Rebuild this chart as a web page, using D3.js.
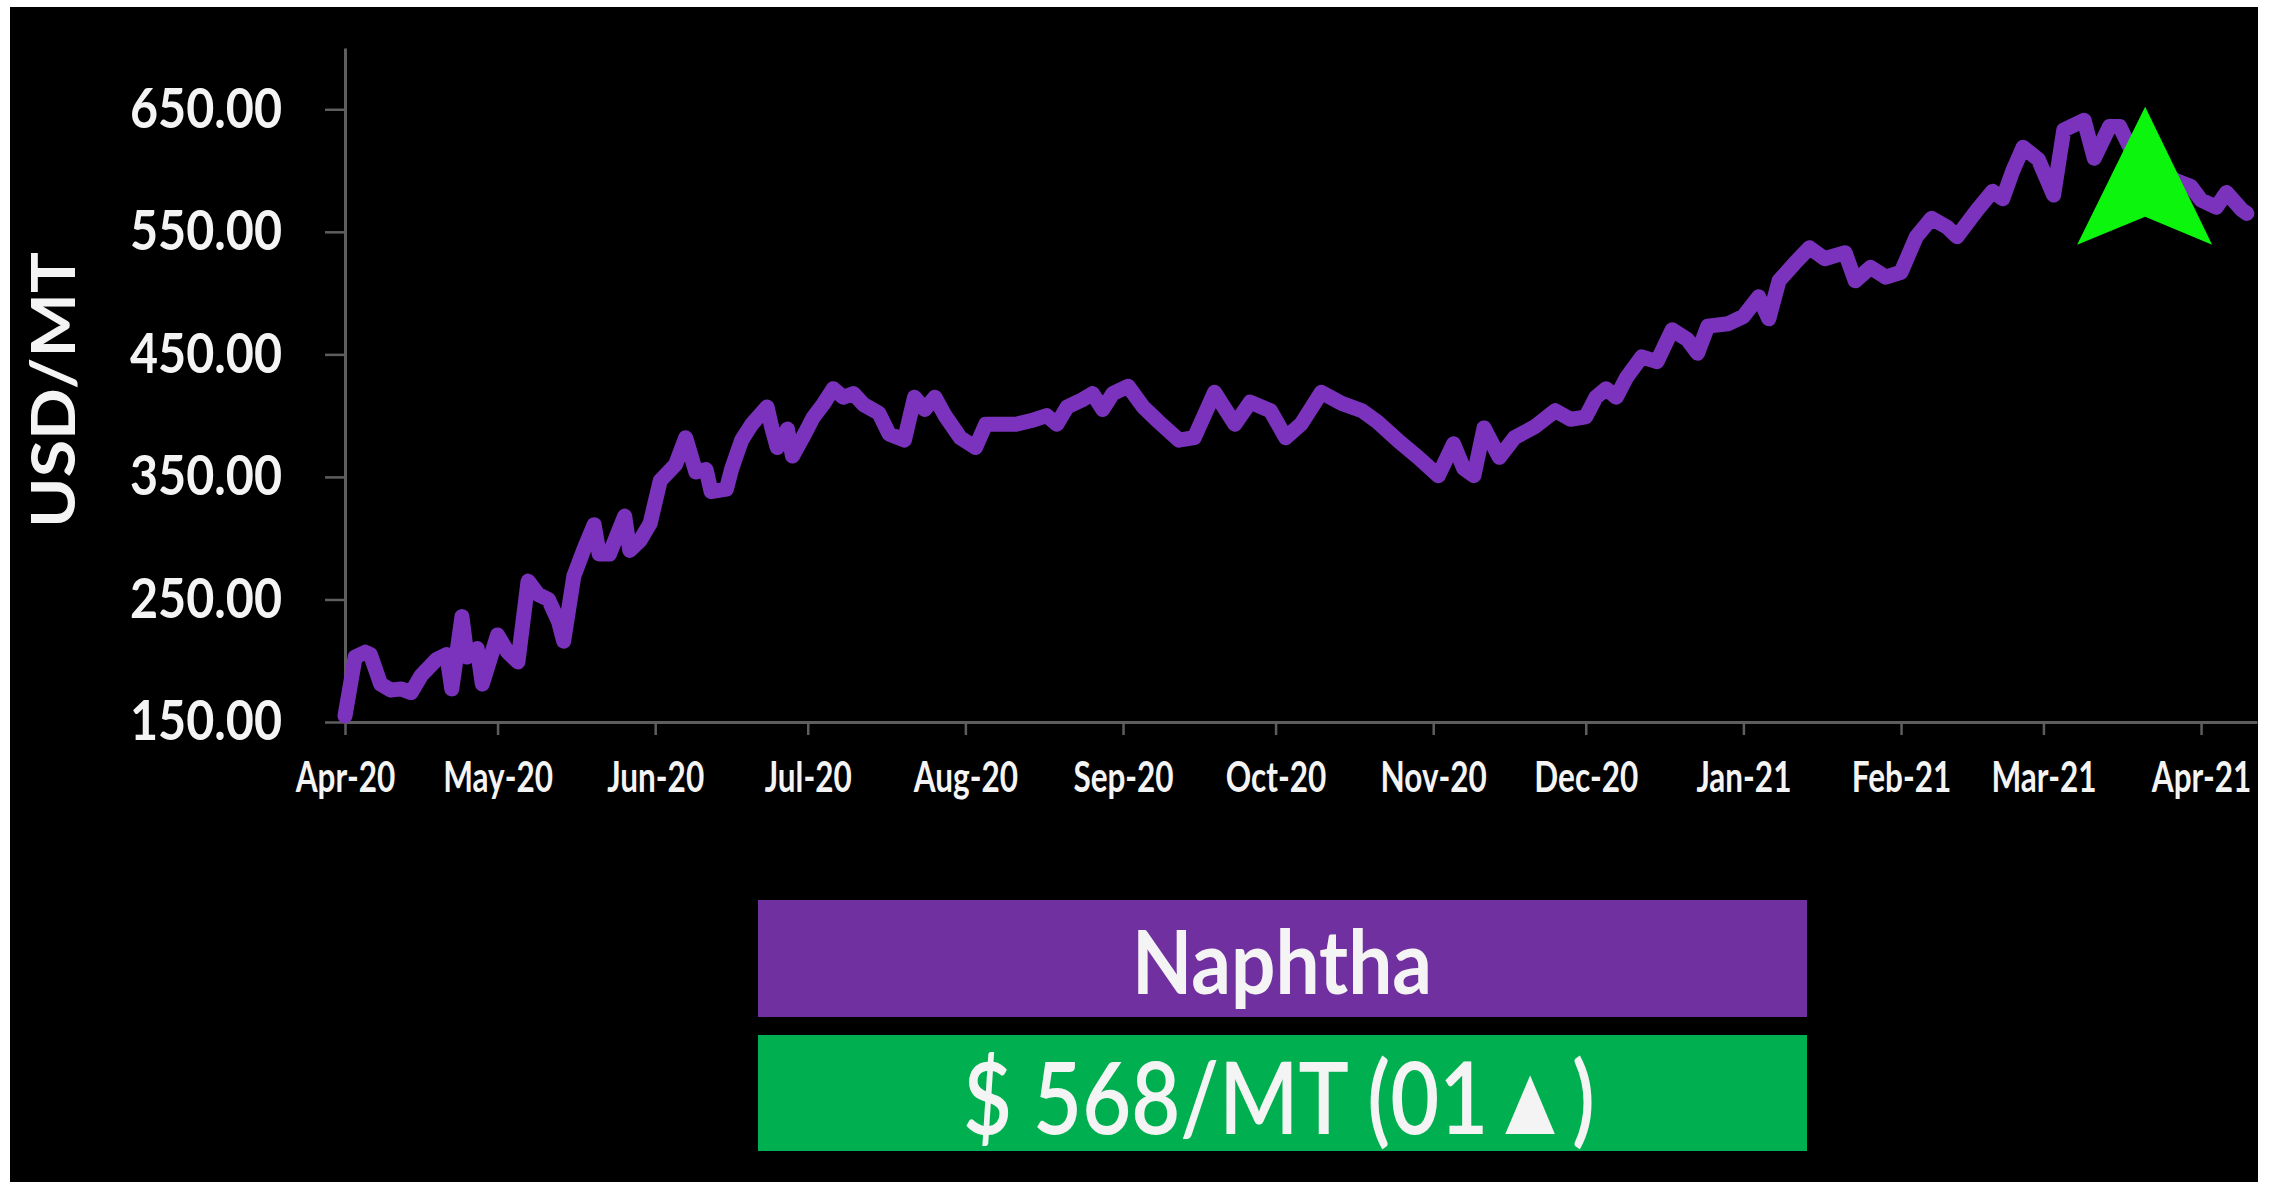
<!DOCTYPE html>
<html>
<head>
<meta charset="utf-8">
<script src="https://cdn.jsdelivr.net/npm/d3@7"></script>
<style>
  body { margin: 0; background: #fff; }
  svg { display: block; }
  text { font-family: Lato, "Open Sans", sans-serif; fill: #f4f4f4; }
</style>
</head>
<body>
<svg id="chart" width="2280" height="1182"></svg>
<script>
// Naphtha price, USD/MT
const dates = [
  "2020-04-01","2020-04-03","2020-04-05","2020-04-06","2020-04-08","2020-04-10","2020-04-12","2020-04-14",
  "2020-04-16","2020-04-19","2020-04-21","2020-04-22","2020-04-24","2020-04-25","2020-04-27","2020-04-28",
  "2020-05-01","2020-05-03","2020-05-05","2020-05-07","2020-05-09","2020-05-11","2020-05-13","2020-05-14",
  "2020-05-16","2020-05-18","2020-05-20","2020-05-21","2020-05-23","2020-05-26","2020-05-27","2020-05-29",
  "2020-05-31","2020-06-02","2020-06-05","2020-06-07","2020-06-09","2020-06-11","2020-06-12","2020-06-15",
  "2020-06-16","2020-06-18","2020-06-20","2020-06-23","2020-06-24","2020-06-25","2020-06-27","2020-06-28",
  "2020-06-30","2020-07-02","2020-07-04","2020-07-06","2020-07-08","2020-07-10","2020-07-12","2020-07-15",
  "2020-07-17","2020-07-20","2020-07-22","2020-07-24","2020-07-26","2020-07-28","2020-07-31","2020-08-03",
  "2020-08-05","2020-08-08","2020-08-11","2020-08-14","2020-08-17","2020-08-19","2020-08-21","2020-08-24",
  "2020-08-26","2020-08-28","2020-08-30","2020-09-02","2020-09-05","2020-09-08","2020-09-12","2020-09-15",
  "2020-09-19","2020-09-23","2020-09-26","2020-09-30","2020-10-03","2020-10-06","2020-10-10","2020-10-14",
  "2020-10-18","2020-10-21","2020-10-25","2020-10-29","2020-11-02","2020-11-05","2020-11-07","2020-11-09",
  "2020-11-11","2020-11-14","2020-11-17","2020-11-21","2020-11-25","2020-11-28","2020-12-01","2020-12-03",
  "2020-12-05","2020-12-07","2020-12-09","2020-12-12","2020-12-15","2020-12-18","2020-12-21","2020-12-23",
  "2020-12-25","2020-12-29","2021-01-01","2021-01-04","2021-01-06","2021-01-08","2021-01-11","2021-01-14",
  "2021-01-17","2021-01-21","2021-01-23","2021-01-26","2021-01-29","2021-02-01","2021-02-04","2021-02-07",
  "2021-02-10","2021-02-12","2021-02-16","2021-02-19","2021-02-21","2021-02-23","2021-02-25","2021-02-28",
  "2021-03-03","2021-03-05","2021-03-09","2021-03-11","2021-03-14","2021-03-16","2021-03-18","2021-03-21",
  "2021-03-24","2021-03-27","2021-03-30","2021-04-01","2021-04-04","2021-04-06","2021-04-09","2021-04-10"
];
const prices = [
  155, 203, 207, 205, 181, 176, 177, 174,
  188, 201, 205, 177, 236, 203, 210, 181,
  221, 207, 199, 265, 254, 250, 232, 216,
  269, 291, 311, 287, 287, 318, 290, 298,
  312, 347, 360, 382, 354, 356, 338, 340,
  356, 380, 393, 407, 389, 374, 389, 367,
  382, 398, 409, 422, 415, 418, 409, 402,
  385, 380, 415, 405, 415, 400, 382, 374,
  393, 393, 393, 396, 400, 393, 407, 413,
  418, 405, 418, 424, 407, 395, 380, 382,
  419, 393, 411, 404, 382, 393, 419, 410,
  404, 395, 380, 366, 351, 377, 357, 351,
  390, 366, 382, 391, 404, 397, 399, 415,
  422, 415, 431, 448, 444, 470, 462, 451,
  473, 475, 481, 497, 479, 510, 524, 537,
  528, 533, 510, 521, 513, 517, 546, 561,
  554, 546, 568, 583, 577, 600, 619, 609,
  580, 633, 641, 610, 636, 636, 619, 605,
  598, 592, 587, 576, 570, 582, 568, 565
];
const yTicks = [150, 250, 350, 450, 550, 650];
const yTitle = "USD/MT";
const productName = "Naphtha";
const priceLabel = "$ 568/MT (01\u25B2)";

const svg = d3.select("#chart");
const parse = d3.timeParse("%Y-%m-%d");
const data = dates.map((d, i) => ({ date: parse(d), value: prices[i] }));

// black frame of the slide
svg.append("rect")
  .attr("x", 10).attr("y", 7)
  .attr("width", 2248).attr("height", 1175)
  .attr("fill", "#000");

const x = d3.scaleTime()
  .domain([parse("2020-04-01"), parse("2021-04-12")])
  .range([345, 2257]);
const y = d3.scaleLinear()
  .domain([150, 700])
  .range([722, 48]);

const axisColor = "#5e5e5e";

// x axis
const xAxis = svg.append("g")
  .attr("transform", "translate(0,722)")
  .call(d3.axisBottom(x)
    .tickValues(d3.timeMonth.range(parse("2020-04-01"), parse("2021-04-02")))
    .tickFormat(d3.timeFormat("%b-%y"))
    .tickSize(13).tickSizeOuter(0).tickPadding(27));

// y axis
const yAxis = svg.append("g")
  .attr("transform", "translate(345,0)")
  .call(d3.axisLeft(y)
    .tickValues(yTicks)
    .tickFormat(d3.format(".2f"))
    .tickSize(20).tickSizeOuter(0).tickPadding(43));

[xAxis, yAxis].forEach(g => {
  g.select(".domain").attr("stroke", axisColor).attr("stroke-width", 3);
  g.selectAll(".tick line").attr("stroke", axisColor).attr("stroke-width", 2.5);
});

xAxis.selectAll("text")
  .attr("fill", "#f4f4f4")
  .style("font-family", "Lato")
  .style("font-weight", 700)
  .style("font-size", "42px")
  .each(function () {
    const w = this.getComputedTextLength();
    d3.select(this).attr("textLength", w * 0.75).attr("lengthAdjust", "spacingAndGlyphs");
  });

yAxis.selectAll("text")
  .attr("fill", "#f4f4f4")
  .style("font-family", "Lato")
  .style("font-weight", 700)
  .style("font-size", "56px")
  .attr("textLength", 152)
  .attr("lengthAdjust", "spacingAndGlyphs");

svg.append("text")
  .attr("transform", "translate(75,390) rotate(-90)")
  .attr("text-anchor", "middle")
  .attr("textLength", 276)
  .attr("lengthAdjust", "spacingAndGlyphs")
  .style("font-weight", 700)
  .style("font-size", "62px")
  .text(yTitle);

// price line
const line = d3.line()
  .x(d => x(d.date))
  .y(d => y(d.value));

svg.append("path")
  .datum(data)
  .attr("fill", "none")
  .attr("stroke", "#7b33bd")
  .attr("stroke-width", 15)
  .attr("stroke-linejoin", "round")
  .attr("stroke-linecap", "round")
  .attr("d", line);

// green up arrow
svg.append("g")
  .attr("transform", `translate(${x(parse("2021-03-21"))},${y(652)})`)
  .append("polygon")
  .attr("points", "0,0 -68,138 0,110 67,138")
  .attr("fill", "#0cf50c");

// name / price boxes
svg.append("rect")
  .attr("x", 758).attr("y", 900)
  .attr("width", 1049).attr("height", 117)
  .attr("fill", "#7030a0");
svg.append("text")
  .attr("x", 1282).attr("y", 994)
  .attr("text-anchor", "middle")
  .attr("textLength", 300)
  .attr("lengthAdjust", "spacingAndGlyphs")
  .style("font-weight", 700)
  .style("font-size", "88px")
  .text(productName);

svg.append("rect")
  .attr("x", 758).attr("y", 1035)
  .attr("width", 1049).attr("height", 116)
  .attr("fill", "#00b050");
svg.append("text")
  .attr("x", 1279).attr("y", 1134)
  .attr("text-anchor", "middle")
  .attr("textLength", 632)
  .attr("lengthAdjust", "spacingAndGlyphs")
  .style("font-weight", 600)
  .style("font-size", "100px")
  .text(priceLabel);
</script>
</body>
</html>
